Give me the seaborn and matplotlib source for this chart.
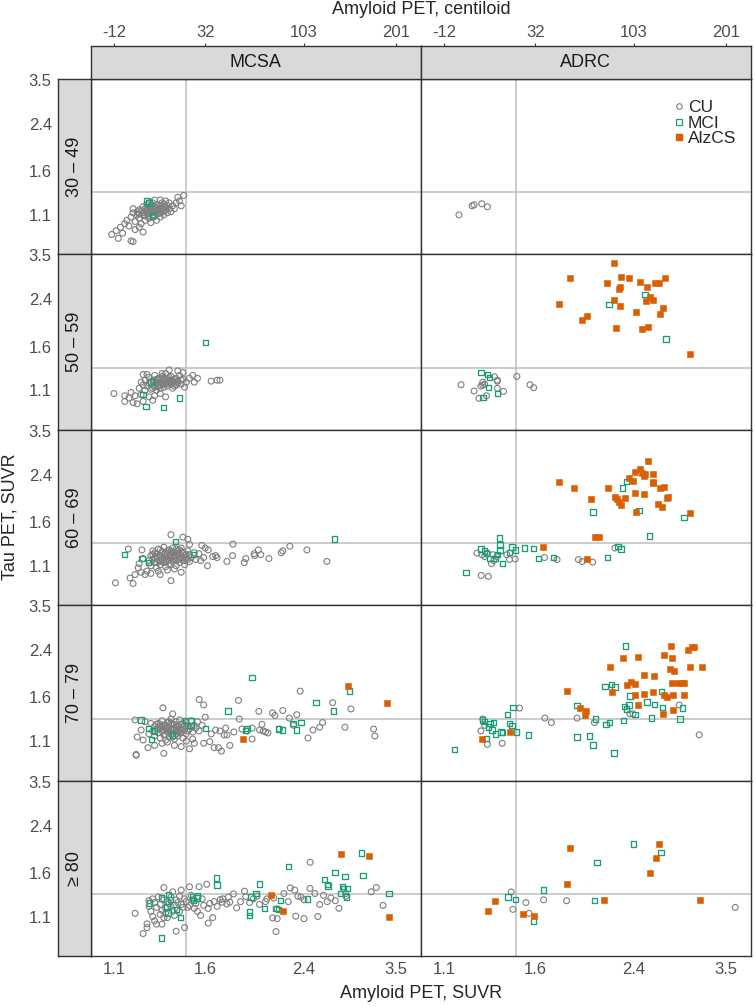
import numpy as np
import pandas as pd
import matplotlib
matplotlib.use("Agg")
import matplotlib.pyplot as plt
import seaborn as sns
from matplotlib.lines import Line2D
from matplotlib.ticker import NullLocator

# ---------------------------
# DATA (amyloid SUVR, tau SUVR)
# ---------------------------
mcsa_3049_cu = [(1.16,1.05),(1.18,1.08),(1.19,1.12),(1.20,1.04),(1.21,1.10),(1.22,1.15),(1.22,1.07),(1.23,1.02),
                (1.24,1.12),(1.24,1.18),(1.25,1.09),(1.25,1.05),(1.26,1.14),(1.26,1.20),(1.27,1.11),(1.27,1.07),
                (1.28,1.16),(1.28,1.03),(1.29,1.13),(1.29,1.22),(1.30,1.09),(1.30,1.18),(1.31,1.05),(1.31,1.14),
                (1.32,1.20),(1.32,1.11),(1.33,1.16),(1.33,1.08),(1.34,1.13),(1.34,1.22),(1.35,1.18),(1.35,1.10),
                (1.36,1.15),(1.36,1.24),(1.37,1.12),(1.37,1.19),(1.38,1.16),(1.38,1.22),(1.39,1.13),(1.40,1.19),
                (1.41,1.16),(1.42,1.22),(1.43,1.28),(1.44,1.24),(1.465,1.30),(1.45,1.19),(1.23,1.14),(1.25,1.16),
                (1.27,1.14),(1.29,1.10),(1.30,1.15),(1.32,1.15),(1.33,1.12),(1.28,1.19),(1.26,1.11),(1.31,1.17),
                (1.35,1.14),(1.27,1.22),(1.30,1.25),(1.33,1.25),(1.21,1.13),(1.19,1.16),(1.09,0.93),(1.11,0.96),
                (1.13,0.99),(1.14,0.94),(1.12,0.90),(1.17,1.00),(1.18,0.88),(1.19,0.875),(1.20,0.97),(1.24,0.95),
                (1.22,0.99),(1.15,1.02),(1.24,1.10),(1.26,1.17),(1.28,1.13),(1.30,1.12),(1.31,1.20),(1.33,1.19),
                (1.34,1.16),(1.36,1.18),(1.29,1.16),(1.27,1.09),(1.22,1.11),(1.35,1.21)]
mcsa_3049_mci = [(1.26,1.24),(1.27,1.22),(1.29,1.09)]
adrc_3049_cu = [(1.17,1.10),(1.235,1.19),(1.245,1.20),(1.285,1.21),(1.315,1.18)]

mcsa_5059_cu = [(1.22,1.12),(1.23,1.18),(1.24,1.15),(1.25,1.10),(1.25,1.20),(1.26,1.14),(1.27,1.17),(1.27,1.23),
                (1.28,1.11),(1.29,1.15),(1.29,1.20),(1.30,1.13),(1.30,1.25),(1.31,1.17),(1.31,1.10),(1.32,1.21),
                (1.32,1.14),(1.33,1.18),(1.33,1.12),(1.34,1.24),(1.34,1.16),(1.35,1.20),(1.35,1.13),(1.36,1.17),
                (1.36,1.27),(1.37,1.22),(1.37,1.14),(1.38,1.19),(1.38,1.31),(1.39,1.16),(1.39,1.24),(1.40,1.20),
                (1.40,1.12),(1.41,1.18),(1.42,1.22),(1.42,1.15),(1.43,1.30),(1.43,1.19),(1.44,1.25),(1.45,1.16),
                (1.46,1.21),(1.46,1.28),(1.47,1.13),(1.48,1.18),(1.50,1.22),(1.52,1.25),(1.55,1.22),(1.53,1.18),
                (1.28,1.18),(1.30,1.19),(1.32,1.17),(1.34,1.19),(1.36,1.21),(1.38,1.23),(1.33,1.22),(1.35,1.16),
                (1.37,1.18),(1.39,1.20),(1.41,1.14),(1.26,1.26),(1.10,1.07),(1.15,1.05),(1.15,1.00),(1.17,1.03),
                (1.19,0.99),(1.20,1.05),(1.21,0.98),(1.18,1.08),(1.24,1.00),(1.23,1.06),(1.27,1.04),(1.30,1.05),
                (1.33,1.07),(1.36,1.04),(1.29,1.01),(1.64,1.19),(1.68,1.20),(1.70,1.20),(1.24,1.26),(1.31,1.21),
                (1.33,1.15),(1.35,1.23),(1.37,1.16),(1.39,1.18),(1.41,1.21),(1.29,1.12),(1.43,1.17),(1.45,1.20),
                (1.34,1.27)]
mcsa_5059_mci = [(1.60,1.655),(1.28,1.18),(1.24,1.06),(1.255,0.96),(1.35,0.95),(1.44,1.03)]
adrc_5059_cu = [(1.18,1.154),(1.245,1.093),(1.27,1.027),(1.29,1.15),(1.29,1.18),(1.28,1.14),(1.354,1.236),
                (1.37,1.20),(1.37,1.19),(1.37,1.12),(1.405,1.09),(1.31,1.05),(1.484,1.24),(1.566,1.154),
                (1.59,1.125),(1.30,1.16)]
adrc_5059_mci = [(1.28,1.283),(1.316,1.261),(1.325,1.226),(1.32,1.125),(1.37,1.071),(1.291,1.036),
                 (2.513,2.498),(2.165,2.299),(2.736,1.708)]
adrc_5059_ad = [(2.207,3.27),(1.842,2.88),(2.147,2.77),(2.275,2.915),(2.347,2.874),(2.459,2.785),(2.262,2.675),
                (2.255,2.63),(2.534,2.668),(2.618,2.77),(2.665,2.77),(2.725,2.874),(2.21,2.386),(2.262,2.267),
                (2.558,2.441),(2.524,2.373),(2.60,2.386),(1.766,2.312),(2.703,2.234),(2.422,2.147),(2.673,2.11),
                (1.978,2.085),(1.94,2.01),(2.225,1.871),(2.479,1.861),(2.537,1.893),(3.023,1.502)]

mcsa_6069_cu = [(1.27,1.15),(1.28,1.20),(1.28,1.10),(1.29,1.25),(1.30,1.13),(1.30,1.18),(1.31,1.22),(1.31,1.08),
                (1.32,1.15),(1.32,1.27),(1.33,1.11),(1.33,1.20),(1.34,1.17),(1.34,1.24),(1.35,1.13),(1.35,1.29),
                (1.36,1.19),(1.36,1.09),(1.37,1.22),(1.37,1.15),(1.38,1.26),(1.38,1.12),(1.39,1.18),(1.39,1.21),
                (1.40,1.14),(1.40,1.28),(1.41,1.17),(1.41,1.23),(1.42,1.10),(1.42,1.20),(1.43,1.16),(1.43,1.25),
                (1.44,1.13),(1.44,1.21),(1.45,1.18),(1.45,1.28),(1.46,1.15),(1.46,1.23),(1.47,1.11),(1.47,1.20),
                (1.48,1.17),(1.49,1.25),(1.50,1.14),(1.50,1.21),(1.51,1.18),(1.53,1.23),(1.54,1.16),(1.35,1.17),
                (1.38,1.16),(1.40,1.19),(1.42,1.15),(1.36,1.23),(1.39,1.25),(1.33,1.14),(1.30,1.23),(1.44,1.17),
                (1.29,1.16),(1.37,1.06),(1.41,1.07),(1.32,1.05),(1.107,0.95),(1.19,0.944),(1.175,0.99),(1.20,1.02),
                (1.23,1.04),(1.215,1.08),(1.167,1.269),(1.234,1.26),(1.39,0.968),(1.25,1.02),(1.28,1.03),
                (1.22,1.12),(1.24,1.17),(1.26,1.05),(1.33,1.02),(1.45,1.04),(1.39,1.435),(1.46,1.406),(1.49,1.38),
                (1.50,1.32),(1.578,1.309),(1.60,1.28),(1.62,1.26),(1.59,1.18),(1.615,1.10),(1.65,1.19),(1.67,1.20),
                (1.68,1.18),(1.749,1.141),(1.793,1.324),(1.79,1.20),(1.878,1.13),(1.89,1.17),(1.956,1.22),
                (1.96,1.20),(1.99,1.26),(2.01,1.21),(2.078,1.17),(2.186,1.23),(2.20,1.25),(2.265,1.30),
                (2.429,1.26),(2.637,1.141),(1.56,1.22),(1.57,1.15),(1.29,1.21),(1.31,1.19),(1.33,1.26),(1.34,1.15),
                (1.36,1.14),(1.37,1.25),(1.38,1.20),(1.40,1.24),(1.41,1.20),(1.43,1.22),(1.45,1.24),(1.46,1.18),
                (1.48,1.21),(1.49,1.16),(1.42,1.27),(1.39,1.11),(1.35,1.21),(1.31,1.13),(1.44,1.26),(1.47,1.15)]
mcsa_6069_mci = [(2.72,1.382),(1.149,1.208),(1.415,1.355),(1.234,1.168),(1.525,1.21),(1.268,1.13)]
adrc_6069_cu = [(1.26,1.226),(1.286,1.209),(1.316,1.226),(1.345,1.209),(1.366,1.19),(1.424,1.209),(1.44,1.16),
                (1.474,1.165),(1.337,1.12),(1.282,1.012),(1.32,1.004),(1.662,1.18),(1.75,1.16),(1.911,1.16),
                (1.94,1.14),(2.025,1.135),(2.22,1.28),(1.30,1.19),(1.35,1.15)]
adrc_6069_mci = [(2.325,2.266),(2.29,2.14),(2.03,1.742),(2.449,1.77),(2.946,1.665),(2.555,1.42),(1.382,1.394),
                 (1.385,1.315),(1.385,1.26),(1.454,1.29),(1.474,1.258),(1.44,1.232),(1.28,1.27),(1.30,1.25),
                 (1.31,1.22),(1.33,1.17),(1.36,1.17),(1.37,1.21),(1.40,1.12),(1.204,1.039),(1.53,1.28),
                 (1.589,1.277),(1.62,1.168),(1.725,1.18),(2.153,1.18),(2.247,1.30),(2.275,1.27)]
adrc_6069_ad = [(2.544,2.706),(2.46,2.527),(2.412,2.455),(2.48,2.44),(2.51,2.42),(2.50,2.37),(2.60,2.41),
                (2.356,2.332),(2.39,2.28),(1.761,2.254),(1.88,2.14),(2.159,2.14),(2.008,1.953),(2.22,1.99),
                (2.24,1.95),(2.26,1.90),(2.28,1.85),(2.309,1.97),(2.41,2.05),(2.50,2.04),(2.59,2.25),(2.60,2.23),
                (2.673,2.14),(2.72,2.17),(2.759,1.99),(2.75,1.96),(2.65,1.87),(2.69,1.82),(2.42,1.737),(3.02,1.73),
                (2.047,1.406),(2.075,1.406),(1.651,1.29),(1.983,1.17)]

mcsa_7079_cu = [(1.29,1.20),(1.30,1.15),(1.30,1.25),(1.31,1.22),(1.32,1.18),(1.32,1.28),(1.33,1.13),(1.33,1.24),
                (1.34,1.20),(1.34,1.31),(1.35,1.16),(1.35,1.26),(1.36,1.22),(1.36,1.11),(1.37,1.19),(1.37,1.29),
                (1.38,1.24),(1.38,1.14),(1.39,1.21),(1.39,1.33),(1.40,1.17),(1.40,1.27),(1.41,1.23),(1.41,1.12),
                (1.42,1.20),(1.42,1.30),(1.43,1.25),(1.43,1.15),(1.44,1.22),(1.44,1.32),(1.45,1.18),(1.45,1.27),
                (1.46,1.24),(1.46,1.13),(1.47,1.21),(1.48,1.29),(1.48,1.17),(1.49,1.25),(1.50,1.22),(1.51,1.31),
                (1.52,1.19),(1.53,1.26),(1.54,1.23),(1.55,1.30),(1.38,1.19),(1.40,1.22),(1.42,1.25),(1.36,1.26),
                (1.34,1.24),(1.45,1.21),(1.47,1.26),(1.39,1.28),(1.31,1.27),(1.43,1.19),(1.37,1.09),(1.41,1.06),
                (1.34,1.08),(1.48,1.10),(1.52,1.12),(1.27,1.17),(1.28,1.28),(1.56,1.20),(1.58,1.26),(1.20,1.32),
                (1.21,1.14),(1.205,0.981),(1.205,0.975),(1.24,1.11),(1.265,1.04),(1.35,0.99),(1.345,1.464),
                (1.40,1.39),(1.50,1.03),(1.25,1.30),(1.23,1.21),(1.30,1.06),(1.45,1.05),(1.53,1.08),(1.561,1.572),
                (1.59,1.50),(1.60,1.35),(1.59,1.08),(1.63,1.095),(1.66,1.04),(1.67,1.21),(1.69,1.04),(1.71,1.01),
                (1.73,1.16),(1.74,1.23),(1.75,1.16),(1.77,1.06),(1.834,1.56),(1.84,1.33),(1.94,1.12),(1.994,1.42),
                (1.94,1.23),(2.00,1.21),(2.03,1.20),(2.05,1.19),(2.07,1.18),(2.11,1.40),(2.13,1.37),(2.20,1.43),
                (2.26,1.34),(2.33,1.38),(2.363,1.689),(2.44,1.13),(2.49,1.21),(2.56,1.24),(2.59,1.29),(2.70,1.53),
                (2.84,1.24),(2.91,1.45),(3.193,1.22),(3.21,1.15),(1.64,1.17),(1.70,1.20),(1.80,1.19),(1.86,1.22),
                (1.90,1.20),(2.02,1.27),(2.17,1.22),(2.30,1.26),(1.33,1.27),(1.35,1.21),(1.37,1.23),(1.39,1.17),
                (1.41,1.27),(1.43,1.21),(1.44,1.18),(1.46,1.28),(1.49,1.20),(1.51,1.24),(1.36,1.16),(1.38,1.30),
                (1.40,1.14),(1.42,1.17),(1.32,1.22)]
mcsa_7079_mci = [(1.938,1.898),(1.758,1.426),(2.52,1.532),(2.893,1.689),(2.706,1.426),(1.886,1.208),(1.90,1.225),
                 (2.162,1.22),(2.20,1.21),(2.293,1.28),(2.33,1.21),(2.37,1.29),(1.23,1.32),(1.268,1.226),
                 (1.30,1.20),(1.282,1.113),(1.40,1.16),(1.474,1.31),(1.51,1.31),(1.51,1.26),(1.60,1.226)]
mcsa_7079_ad = [(2.88,1.762),(3.373,1.519),(1.868,1.116)]
adrc_7079_cu = [(1.29,1.33),(1.28,1.20),(1.315,1.07),(1.397,1.08),(1.50,1.46),(1.665,1.34),(1.71,1.29),
                (1.90,1.34),(2.04,1.29),(2.36,1.39),(2.39,1.39),(2.89,1.50),(3.137,1.161),(1.30,1.26)]
adrc_7079_mci = [(2.315,2.49),(2.13,1.76),(2.19,1.79),(2.22,1.75),(2.36,1.62),(2.35,1.50),(2.31,1.48),(2.33,1.45),
                 (2.53,1.54),(2.61,1.51),(2.69,1.68),(2.70,1.47),(2.93,1.46),(2.41,1.38),(2.58,1.34),(2.90,1.33),
                 (2.30,1.31),(2.17,1.29),(2.14,1.27),(2.05,1.33),(1.899,1.49),(1.90,1.138),(2.0,1.15),(2.03,1.063),
                 (2.21,0.995),(1.29,1.32),(1.30,1.30),(1.33,1.28),(1.35,1.29),(1.32,1.24),(1.34,1.21),(1.36,1.17),
                 (1.39,1.19),(1.40,1.185),(1.428,1.38),(1.44,1.28),(1.46,1.47),(1.455,1.26),(1.48,1.19),
                 (1.557,1.16),(1.31,1.125),(1.149,1.024)]
adrc_7079_ad = [(2.789,2.498),(3.048,2.46),(3.07,2.46),(3.0,2.40),(2.72,2.299),(2.81,2.25),(2.439,2.27),
                (2.29,2.25),(3.172,2.08),(3.02,2.08),(2.171,2.075),(2.78,2.05),(2.83,2.0),(2.503,1.948),(2.61,1.93),
                (2.366,1.829),(2.41,1.79),(2.33,1.78),(2.81,1.81),(2.88,1.81),(2.92,1.81),(2.95,1.81),(1.822,1.689),
                (2.19,1.68),(2.60,1.68),(2.50,1.65),(2.41,1.63),(2.72,1.64),(2.75,1.60),(2.82,1.64),(2.95,1.64),
                (2.44,1.506),(1.925,1.464),(1.97,1.42),(1.96,1.38),(2.82,1.44),(2.70,1.39),(1.286,1.125),(1.44,1.19)]

mcsa_80_cu = [(1.20,1.13),(1.26,1.033),(1.26,1.0),(1.24,0.95),(1.30,1.06),(1.34,1.03),(1.35,1.09),(1.42,0.97),
              (1.47,1.0),(1.35,1.41),(1.45,1.38),(1.50,1.42),(1.61,1.45),(1.62,1.04),(1.65,1.09),(1.702,1.273),
              (1.715,1.244),(1.749,1.225),(1.77,1.244),(1.797,1.336),(1.82,1.185),(1.88,1.367),(1.89,1.305),
              (1.95,1.28),(1.98,1.31),(2.061,1.28),(2.12,1.29),(2.15,1.174),(2.14,0.967),(2.11,1.087),(2.15,1.08),
              (2.21,1.34),(2.268,1.406),(2.31,1.38),(2.34,1.31),(2.40,1.27),(2.32,1.103),(2.40,1.08),(2.462,1.752),
              (2.46,1.40),(2.51,1.34),(2.54,1.10),(2.56,1.22),(2.64,1.25),(2.73,1.26),(2.77,1.18),(2.85,1.34),
              (2.85,1.31),(3.163,1.36),(3.23,1.41),(3.32,1.21),(1.56,1.42),(1.58,1.28),(1.55,1.15),(1.57,1.11),
              (1.62,1.18),(1.63,1.23),(1.49,1.19),(1.47,1.28),(1.45,1.22),(1.40,1.36),(1.40,1.15),(1.37,1.09),
              (1.31,1.19),(1.29,1.28),(1.28,1.15),(1.32,1.30),(1.37,1.25),(1.39,1.20),(1.42,1.27),(1.44,1.15),
              (1.27,1.20),(1.33,1.12),(1.31,1.03),(1.30,1.24),(1.33,1.22),(1.35,1.27),(1.36,1.18),(1.38,1.23),
              (1.41,1.21),(1.43,1.24),(1.46,1.19),(1.48,1.25),(1.50,1.21),(1.52,1.27),(1.54,1.23),(1.53,1.18),
              (1.34,1.16),(1.39,1.30),(1.44,1.31),(1.51,1.32),(1.27,1.26),(1.29,1.10),(1.36,1.13),(1.41,1.11),
              (1.59,1.21),(1.66,1.25),(1.68,1.20),(1.72,1.28),(1.76,1.30),(1.85,1.25),(1.92,1.24),(2.00,1.22),
              (2.05,1.25),(2.25,1.25),(2.37,1.30),(2.60,1.32),(2.68,1.29)]
mcsa_80_mci = [(3.04,1.898),(2.25,1.689),(2.725,1.608),(2.84,1.55),(3.06,1.56),(2.61,1.51),(2.64,1.45),(2.65,1.43),
               (2.81,1.42),(2.82,1.40),(2.87,1.40),(2.79,1.34),(2.86,1.30),(3.40,1.34),(2.0,1.455),(1.97,1.34),
               (1.93,1.30),(1.92,1.145),(1.92,1.11),(2.04,1.18),(2.14,1.18),(2.16,1.17),(2.18,1.26),(2.432,1.28),
               (1.676,1.529),(1.68,1.44),(1.52,1.30),(1.55,1.31),(1.273,1.237),(1.336,1.29),(1.376,1.33),
               (1.386,1.27),(1.367,1.20),(1.373,1.135),(1.424,1.17),(1.444,1.09),(1.525,1.265),(1.546,1.29),
               (1.336,0.916)]
mcsa_80_ad = [(2.793,1.888),(3.137,1.85),(3.396,1.093),(2.098,1.328),(2.198,1.158)]
adrc_80_cu = [(1.45,1.359),(1.46,1.17),(1.54,1.24),(1.56,1.13),(1.656,1.27),(1.82,1.26),(3.637,1.19)]
adrc_80_mci = [(2.395,2.051),(2.68,1.91),(2.061,1.752),(1.656,1.382),(1.43,1.30),(1.475,1.27),(2.04,1.26),(1.59,1.06)]
adrc_80_ad = [(1.847,1.987),(2.662,2.051),(2.63,1.819),(2.56,1.599),(1.822,1.451),(2.121,1.268),(3.15,1.268),
              (1.358,1.26),(1.32,1.158),(1.521,1.123),(1.59,1.105)]

sites = ["MCSA", "ADRC"]
ages = ["30 \u2013 49", "50 \u2013 59", "60 \u2013 69", "70 \u2013 79", "\u2265 80"]
groups = ["CU", "MCI", "AlzCS"]
x_ticks = [1.1, 1.6, 2.4, 3.5]
x_top_labels = ["-12", "32", "103", "201"]
y_ticks = [1.1, 1.6, 2.4, 3.5]

panel_data = [
    (0, "MCSA", "CU", mcsa_3049_cu), (0, "MCSA", "MCI", mcsa_3049_mci), (0, "ADRC", "CU", adrc_3049_cu),
    (1, "MCSA", "CU", mcsa_5059_cu), (1, "MCSA", "MCI", mcsa_5059_mci), (1, "ADRC", "CU", adrc_5059_cu),
    (1, "ADRC", "MCI", adrc_5059_mci), (1, "ADRC", "AlzCS", adrc_5059_ad),
    (2, "MCSA", "CU", mcsa_6069_cu), (2, "MCSA", "MCI", mcsa_6069_mci), (2, "ADRC", "CU", adrc_6069_cu),
    (2, "ADRC", "MCI", adrc_6069_mci), (2, "ADRC", "AlzCS", adrc_6069_ad),
    (3, "MCSA", "CU", mcsa_7079_cu), (3, "MCSA", "MCI", mcsa_7079_mci), (3, "MCSA", "AlzCS", mcsa_7079_ad),
    (3, "ADRC", "CU", adrc_7079_cu), (3, "ADRC", "MCI", adrc_7079_mci), (3, "ADRC", "AlzCS", adrc_7079_ad),
    (4, "MCSA", "CU", mcsa_80_cu), (4, "MCSA", "MCI", mcsa_80_mci), (4, "MCSA", "AlzCS", mcsa_80_ad),
    (4, "ADRC", "CU", adrc_80_cu), (4, "ADRC", "MCI", adrc_80_mci), (4, "ADRC", "AlzCS", adrc_80_ad),
]
recs = []
for row, site, grp, pts in panel_data:
    for amy, tau in pts:
        recs.append({"row": row, "site": site, "group": grp, "amyloid": amy, "tau": tau})
df = pd.DataFrame(recs)

# ---------------------------
# STYLE
# ---------------------------
sns.set_style("white")
plt.rcParams["font.family"] = ["Liberation Sans", "DejaVu Sans"]

styles = {
    "CU": dict(marker="o", color="#7f7f7f", facecolor="none", edgecolor="#7f7f7f", s=18, linewidth=0.8),
    "MCI": dict(marker="s", color="#1b9e77", facecolor="none", edgecolor="#1b9e77", s=15, linewidth=0.95),
    "AlzCS": dict(marker="s", color="#d95f02", edgecolor="#d95f02", s=17, linewidth=0.4),
}
border = "#333333"
strip_fill = "#d9d9d9"
tick_kw = dict(direction="out", length=2.5, width=0.8, color=border, labelcolor="#4d4d4d", labelsize=12, pad=2)

W, H = 755, 1007
xlim = (1.0, 3.88)
ylim = (0.784, 3.53)
pan_left = [90.7, 420.7]
pan_w = 330.3
pan_top0 = 79.0
pan_h = 175.4


def box(l, t, w, h):
    return [l / W, 1 - (t + h) / H, w / W, h / H]


def style_spines(ax, lw=1.0):
    for sp in ax.spines.values():
        sp.set_color(border)
        sp.set_linewidth(lw)
        sp.set_visible(True)


fig = plt.figure(figsize=(7.55, 10.07), dpi=100)

for r in range(5):
    top = pan_top0 + r * pan_h
    for c, site in enumerate(sites):
        ax = fig.add_axes(box(pan_left[c], top, pan_w, pan_h))
        ax.set_xscale("log")
        ax.set_yscale("log")
        ax.axvline(1.48, color="#bebebe", lw=1.1, zorder=1)
        ax.axhline(1.335, color="#bebebe", lw=1.1, zorder=1)
        sub = df[(df["row"] == r) & (df["site"] == site)]
        for g in groups:
            d = sub[sub["group"] == g]
            if len(d):
                sns.scatterplot(data=d, x="amyloid", y="tau", ax=ax, legend=False, zorder=3, **styles[g])
        ax.set_xlim(*xlim)
        ax.set_ylim(*ylim)
        ax.xaxis.set_minor_locator(NullLocator())
        ax.yaxis.set_minor_locator(NullLocator())
        ax.set_yticks([])
        ax.set_xlabel("")
        ax.set_ylabel("")
        if r == 4:
            ax.set_xticks(x_ticks, [str(v) for v in x_ticks])
            ax.tick_params(axis="x", **tick_kw)
        else:
            ax.set_xticks([])
        style_spines(ax)

        if r == 0 and site == "ADRC":
            handles = [Line2D([], [], linestyle="none", marker="o", markersize=4, markerfacecolor="none",
                              markeredgecolor="#7f7f7f", markeredgewidth=0.8),
                       Line2D([], [], linestyle="none", marker="s", markersize=4, markerfacecolor="none",
                              markeredgecolor="#1b9e77", markeredgewidth=0.9),
                       Line2D([], [], linestyle="none", marker="s", markersize=4, markerfacecolor="#d95f02",
                              markeredgecolor="#d95f02")]
            ax.legend(handles, groups, loc="upper right", bbox_to_anchor=(0.955, 0.88), frameon=False,
                      fontsize=12.5, handlelength=0.5, handletextpad=0.25, labelspacing=0.02, borderpad=0,
                      borderaxespad=0)

        # top strips with centiloid axis
        if r == 0:
            st = fig.add_axes(box(pan_left[c], 46.3, pan_w, pan_top0 - 46.3))
            st.set_facecolor(strip_fill)
            st.set_xscale("log")
            st.set_xlim(*xlim)
            st.xaxis.set_minor_locator(NullLocator())
            st.xaxis.tick_top()
            st.set_xticks(x_ticks, x_top_labels)
            st.tick_params(axis="x", **tick_kw)
            st.set_yticks([])
            st.text(0.5, 0.5, site, transform=st.transAxes, ha="center", va="center", fontsize=13,
                    color="#1a1a1a")
            style_spines(st)

    # left strips with y axis
    sl = fig.add_axes(box(58.0, top, pan_left[0] - 58.0, pan_h))
    sl.set_facecolor(strip_fill)
    sl.set_yscale("log")
    sl.set_ylim(*ylim)
    sl.yaxis.set_minor_locator(NullLocator())
    sl.set_yticks(y_ticks, [str(v) for v in y_ticks])
    sl.tick_params(axis="y", **tick_kw)
    sl.set_xticks([])
    sl.text(0.5, 0.5, ages[r], transform=sl.transAxes, ha="center", va="center", rotation=90,
            fontsize=13, color="#1a1a1a")
    style_spines(sl)

fig.text(421 / W, 1 - 10 / H, "Amyloid PET, centiloid", ha="center", va="center", fontsize=13)
fig.text(421 / W, 1 - 993 / H, "Amyloid PET, SUVR", ha="center", va="center", fontsize=13)
fig.text(10 / W, 1 - 517 / H, "Tau PET, SUVR", ha="center", va="center", rotation=90, fontsize=13)

fig.savefig("out.png", dpi=100)
